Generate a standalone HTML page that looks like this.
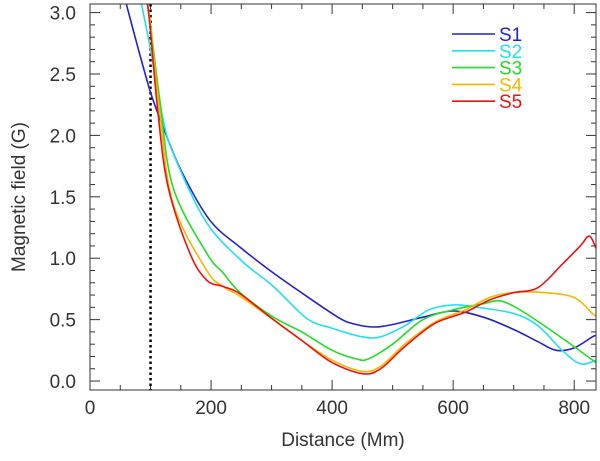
<!DOCTYPE html>
<html><head><meta charset="utf-8"><style>
body{margin:0;background:#fff}
svg{display:block;font-family:"Liberation Sans",sans-serif}
</style></head><body>
<svg id="chart" width="600" height="461"></svg>
<script>
const xTicks=[0,200,400,600,800];
const yTicks=[0.0,0.5,1.0,1.5,2.0,2.5,3.0];
const seriesNames=["S1","S2","S3","S4","S5"];
const seriesColors=["#2222cc","#22e0f0","#22dd22","#f5b800","#ee1111"];
const s1X=[60,80,100,116,150,198,248,303,358,413,440,470,500,550,600,650,700,740,770,800,830,836];
const s1Y=[3.07,2.7,2.35,2.13,1.72,1.31,1.09,0.88,0.69,0.51,0.46,0.44,0.46,0.52,0.57,0.52,0.42,0.32,0.25,0.27,0.36,0.37];
const s2X=[85,100,120,137,190,248,303,358,400,450,480,520,560,600,640,700,740,780,810,836];
const s2Y=[3.07,2.7,2.15,1.86,1.31,0.99,0.77,0.51,0.43,0.36,0.36,0.45,0.58,0.62,0.6,0.55,0.45,0.25,0.14,0.17];
const s3X=[95,100,115,137,193,220,248,303,350,400,440,460,500,550,600,650,680,720,780,836];
const s3Y=[3.07,2.9,2.3,1.58,1.04,0.88,0.72,0.52,0.4,0.25,0.18,0.18,0.3,0.5,0.58,0.63,0.65,0.55,0.35,0.15];
const s4X=[95,100,115,137,193,220,248,303,350,400,450,480,520,570,620,660,700,750,800,830,836];
const s4Y=[3.07,2.9,2.2,1.45,0.9,0.77,0.69,0.5,0.33,0.17,0.08,0.12,0.3,0.48,0.58,0.68,0.72,0.72,0.68,0.55,0.53];
const s5X=[95,100,112,129,165,193,220,248,303,350,400,450,480,520,570,620,660,700,740,780,810,825,836];
const s5Y=[3.07,2.85,2.2,1.58,1.04,0.82,0.77,0.71,0.5,0.33,0.15,0.06,0.1,0.28,0.47,0.56,0.66,0.72,0.76,0.95,1.1,1.18,1.08];
const allX=[s1X,s2X,s3X,s4X,s5X], allY=[s1Y,s2Y,s3Y,s4Y,s5Y];
const dottedX=100;

const L=90,R=596,T=4,B=390,X0=0,X1=836,Y0=-0.073,Y1=3.07;
const sx=v=>L+(v-X0)/(X1-X0)*(R-L);
const sy=v=>B-(v-Y0)/(Y1-Y0)*(B-T);
const NS="http://www.w3.org/2000/svg";
const svg=document.getElementById('chart');
function mk(tag,attrs,parent){const e=document.createElementNS(NS,tag);for(const k in attrs)e.setAttribute(k,attrs[k]);(parent||svg).appendChild(e);return e;}
const defs=mk('defs',{});const cp=mk('clipPath',{id:'clip'},defs);mk('rect',{x:L,y:T,width:R-L,height:B-T},cp);

const ticks=mk('g',{stroke:'#333','stroke-width':1});


for(let v=0;v<=X1;v+=50){const x=sx(v),len=(v%200===0)?10:5;
 mk('line',{x1:x,y1:B,x2:x,y2:B-len},ticks);mk('line',{x1:x,y1:T,x2:x,y2:T+len},ticks);}
for(let i=0;i<=30;i++){const v=i/10,y=sy(v),len=(i%5===0)?10:5;
 mk('line',{x1:L,y1:y,x2:L+len,y2:y},ticks);mk('line',{x1:R,y1:y,x2:R-len,y2:y},ticks);}

xTicks.forEach(v=>{const t=mk('text',{x:sx(v),y:414,'text-anchor':'middle','font-size':19,fill:'#333'});t.textContent=v;
 
 });
yTicks.forEach(v=>{const t=mk('text',{x:76,y:sy(v)+7,'text-anchor':'end','font-size':19,fill:'#333'});t.textContent=v.toFixed(1);
 
 });
const xt=mk('text',{x:(L+R)/2,y:446,'text-anchor':'middle','font-size':19,fill:'#333'});xt.textContent='Distance (Mm)';


const yt=mk('text',{x:0,y:0,'text-anchor':'middle','font-size':19,fill:'#333',transform:`translate(25,${(T+B)/2}) rotate(-90)`});yt.textContent='Magnetic field (G)';



const dl=mk('line',{x1:sx(dottedX),y1:T,x2:sx(dottedX),y2:B,stroke:'#000','stroke-width':2.5,'stroke-dasharray':'2.5,3'});



function smooth(pts){let d='M'+pts[0][0].toFixed(1)+','+pts[0][1].toFixed(1);
 for(let i=0;i<pts.length-1;i++){const p0=pts[Math.max(0,i-1)],p1=pts[i],p2=pts[i+1],p3=pts[Math.min(pts.length-1,i+2)];
  const c1=[p1[0]+(p2[0]-p0[0])/6,p1[1]+(p2[1]-p0[1])/6],c2=[p2[0]-(p3[0]-p1[0])/6,p2[1]-(p3[1]-p1[1])/6];
  d+='C'+c1.map(v=>v.toFixed(1)).join(',')+' '+c2.map(v=>v.toFixed(1)).join(',')+' '+p2[0].toFixed(1)+','+p2[1].toFixed(1);}
 return d;}
const g=mk('g',{'clip-path':'url(#clip)'});
allX.forEach((xs,i)=>{const pts=xs.map((v,j)=>[sx(v),sy(allY[i][j])]);
 const p=mk('path',{d:smooth(pts),fill:'none',stroke:seriesColors[i],'stroke-width':1.6,'stroke-linejoin':'round'},g);
 
 });

seriesNames.forEach((n,i)=>{const y=34+i*16.8;
 const lg=mk('g',{});
 
 
 mk('line',{x1:452,y1:y,x2:495,y2:y,stroke:seriesColors[i],'stroke-width':1.6},lg);
 const t=mk('text',{x:499,y:y+7,'font-size':19,fill:seriesColors[i]},lg);t.textContent=n;});

mk('rect',{x:L,y:T,width:R-L,height:B-T,fill:'none',stroke:'#333','stroke-width':1});
</script>
</body></html>
